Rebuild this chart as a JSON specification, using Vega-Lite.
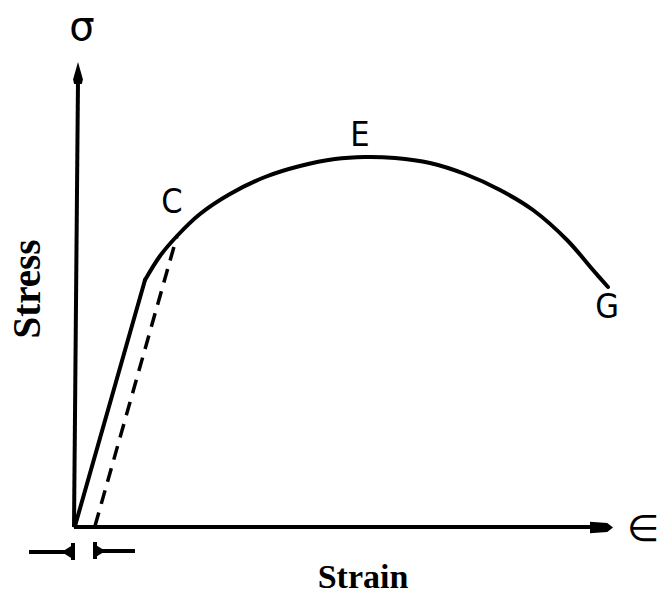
{
  "$schema": "https://vega.github.io/schema/vega-lite/v6.json",
  "width": 658,
  "height": 599,
  "padding": 0,
  "autosize": {"type": "none"},
  "background": "white",
  "config": {"view": {"stroke": null}},
  "datasets": {
    "curve": [
      {"segment": "elastic", "x": 0, "y": 0}, {"segment": "elastic", "x": 14, "y": 49.2},
      {"segment": "plastic", "x": 14, "y": 49.2}, {"segment": "plastic", "x": 17, "y": 54},
      {"segment": "plastic", "x": 20.4, "y": 58}, {"segment": "plastic", "x": 25, "y": 62.4},
      {"segment": "plastic", "x": 31, "y": 66.4}, {"segment": "plastic", "x": 38, "y": 69.8},
      {"segment": "plastic", "x": 45, "y": 72}, {"segment": "plastic", "x": 52, "y": 73.4},
      {"segment": "plastic", "x": 58, "y": 73.8}, {"segment": "plastic", "x": 64, "y": 73.6},
      {"segment": "plastic", "x": 71, "y": 72.6}, {"segment": "plastic", "x": 78, "y": 70.4},
      {"segment": "plastic", "x": 85, "y": 67.2}, {"segment": "plastic", "x": 91.6, "y": 63.2},
      {"segment": "plastic", "x": 98.4, "y": 57.2}, {"segment": "plastic", "x": 103.6, "y": 51.2},
      {"segment": "plastic", "x": 106.6, "y": 47.8}
    ],
    "offset": [{"x": 4, "y": 0}, {"x": 20.4, "y": 58}],
    "axes": [
      {"part": "yaxis", "x": -0.2, "y": -0.2}, {"part": "yaxis", "x": 0.6, "y": 89.2},
      {"part": "xaxis", "x": -0.2, "y": -0.2}, {"part": "xaxis", "x": 104, "y": -0.2},
      {"part": "dimL", "x": -9.2, "y": -5.2}, {"part": "dimL", "x": -0.6, "y": -5.2},
      {"part": "tickL", "x": -0.4, "y": -3.4}, {"part": "tickL", "x": -0.4, "y": -6.8},
      {"part": "tickR", "x": 4, "y": -3.2}, {"part": "tickR", "x": 4, "y": -6.6},
      {"part": "dimR", "x": 4, "y": -5}, {"part": "dimR", "x": 12, "y": -5}
    ],
    "heads": [
      {"dir": "up", "x": 0.6, "y": 90.6},
      {"dir": "right", "x": 105.3, "y": -0.3},
      {"dir": "smallright", "x": -1.4, "y": -5.2},
      {"dir": "smallleft", "x": 4.8, "y": -5}
    ],
    "letters": [
      {"label": "C", "x": 19.4, "y": 64.6},
      {"label": "E", "x": 57, "y": 78},
      {"label": "G", "x": 106.4, "y": 43.6}
    ],
    "symbols": [
      {"label": "σ", "x": 1.4, "y": 99.6, "size": 40},
      {"label": "∈", "x": 113.6, "y": -0.8, "size": 37}
    ],
    "titles": [
      {"label": "Stress", "x": -9.4, "y": 47.4, "angle": 270, "size": 39},
      {"label": "Strain", "x": 57.6, "y": -10.4, "angle": 0, "size": 34}
    ]
  },
  "encoding": {
    "x": {"field": "x", "type": "quantitative", "scale": {"domain": [-15, 116.6], "nice": false, "zero": false}, "axis": null},
    "y": {"field": "y", "type": "quantitative", "scale": {"domain": [-14.6, 105.2], "nice": false, "zero": false}, "axis": null}
  },
  "layer": [
    {
      "data": {"name": "axes"},
      "mark": {"type": "line", "color": "black", "strokeWidth": 4, "strokeCap": "butt"},
      "encoding": {"detail": {"field": "part"}}
    },
    {
      "data": {"name": "curve"},
      "transform": [{"filter": "datum.segment == 'elastic'"}],
      "mark": {"type": "line", "color": "black", "strokeWidth": 4, "interpolate": "linear", "strokeCap": "round"}
    },
    {
      "data": {"name": "curve"},
      "transform": [{"filter": "datum.segment == 'plastic'"}],
      "mark": {"type": "line", "color": "black", "strokeWidth": 4, "interpolate": "catmull-rom", "strokeCap": "round"}
    },
    {
      "data": {"name": "offset"},
      "mark": {"type": "line", "color": "black", "strokeWidth": 3.5, "strokeDash": [14, 9]}
    },
    {
      "data": {"name": "heads"},
      "transform": [{"filter": "datum.dir == 'up'"}],
      "mark": {"type": "point", "filled": true, "color": "black", "opacity": 1, "size": 484,
               "shape": "M0,-1 L0.45,0.6 L0.35,1 L-0.35,1 L-0.45,0.6 Z"}
    },
    {
      "data": {"name": "heads"},
      "transform": [{"filter": "datum.dir == 'right'"}],
      "mark": {"type": "point", "filled": true, "color": "black", "opacity": 1, "size": 529,
               "shape": "M1,0 L0.5,-0.4 L-1,-0.5 L-1,0.5 L0.5,0.4 Z"}
    },
    {
      "data": {"name": "heads"},
      "transform": [{"filter": "datum.dir == 'smallright'"}],
      "mark": {"type": "point", "filled": true, "color": "black", "opacity": 1, "size": 64,
               "shape": "M1,-1.6 L1,1.6 L-1,0.4 L-1,-0.4 Z"}
    },
    {
      "data": {"name": "heads"},
      "transform": [{"filter": "datum.dir == 'smallleft'"}],
      "mark": {"type": "point", "filled": true, "color": "black", "opacity": 1, "size": 64,
               "shape": "M-1,-1.6 L-1,1.6 L1,0.4 L1,-0.4 Z"}
    },
    {
      "data": {"name": "letters"},
      "mark": {"type": "text", "font": "Liberation Sans Narrow, DejaVu Sans Condensed, DejaVu Sans", "fontSize": 34, "color": "black", "align": "center", "baseline": "middle"},
      "encoding": {"text": {"field": "label"}}
    },
    {
      "data": {"name": "symbols"},
      "mark": {"type": "text", "font": "DejaVu Sans", "color": "black", "align": "center", "baseline": "middle"},
      "encoding": {
        "text": {"field": "label"},
        "size": {"field": "size", "type": "quantitative", "scale": null}
      }
    },
    {
      "data": {"name": "titles"},
      "mark": {"type": "text", "font": "Liberation Serif", "fontWeight": "bold", "color": "black", "align": "center", "baseline": "middle"},
      "encoding": {
        "text": {"field": "label"},
        "angle": {"field": "angle", "type": "quantitative", "scale": null},
        "size": {"field": "size", "type": "quantitative", "scale": null}
      }
    }
  ]
}
